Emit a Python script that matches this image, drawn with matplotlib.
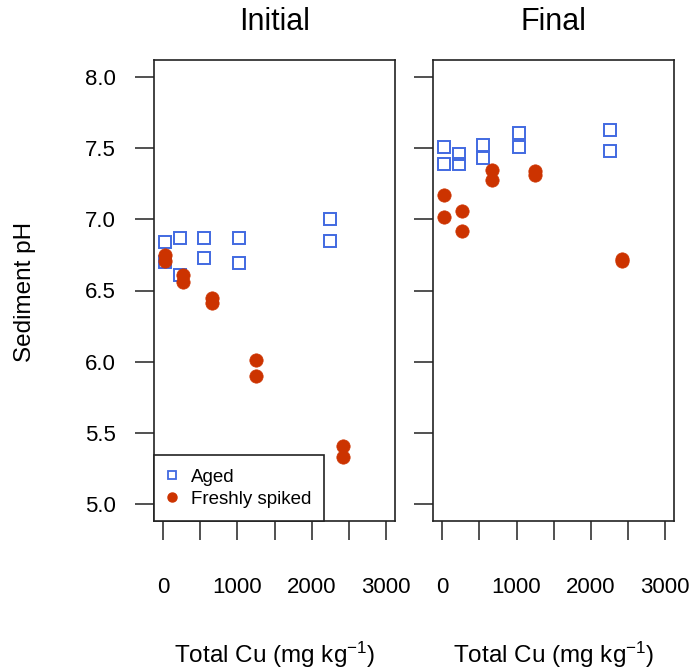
import matplotlib
matplotlib.use("Agg")
import matplotlib.pyplot as plt
from matplotlib.lines import Line2D

plt.rcParams['font.family'] = ['Liberation Sans', 'DejaVu Sans']
plt.rcParams['mathtext.fontset'] = 'custom'
plt.rcParams['mathtext.rm'] = 'Liberation Sans'
plt.rcParams['mathtext.it'] = 'Liberation Sans:italic'
plt.rcParams['mathtext.default'] = 'regular'

# ---- data ----
aged_x = [23, 23, 220, 220, 555, 555, 1027, 1027, 2254, 2254]
fresh_x = [23, 23, 269, 269, 664, 664, 1246, 1246, 2419, 2419]

aged_initial = [6.84, 6.70, 6.87, 6.61, 6.87, 6.73, 6.87, 6.69, 7.00, 6.85]
fresh_initial = [6.75, 6.71, 6.61, 6.56, 6.45, 6.41, 6.01, 5.90, 5.41, 5.33]

aged_final = [7.51, 7.39, 7.46, 7.39, 7.52, 7.43, 7.61, 7.51, 7.63, 7.48]
fresh_final = [7.17, 7.02, 7.06, 6.92, 7.35, 7.28, 7.34, 7.31, 6.72, 6.71]

panel_titles = ["Initial", "Final"]
x_ticks = [0, 500, 1000, 1500, 2000, 2500, 3000]
x_ticklabels = ["0", "", "1000", "", "2000", "", "3000"]
y_ticks = [5.0, 5.5, 6.0, 6.5, 7.0, 7.5, 8.0]
y_ticklabels = ["5.0", "5.5", "6.0", "6.5", "7.0", "7.5", "8.0"]
series_labels = ["Aged", "Freshly spiked"]

blue = "#4169E1"
red = "#CC3300"
W, H = 691, 672

fig = plt.figure(figsize=(W / 100, H / 100), dpi=100)

ax_boxes = [(154.3, 394.7), (433.3, 674.0)]
top_px, bot_px = 60, 521
axes = []
for (l, r) in ax_boxes:
    ax = fig.add_axes([l / W, (H - bot_px) / H, (r - l) / W, (bot_px - top_px) / H])
    axes.append(ax)

datasets = [(aged_initial, fresh_initial), (aged_final, fresh_final)]

for i, ax in enumerate(axes):
    a, f = datasets[i]
    ax.plot(aged_x, a, linestyle='none', marker='s', markersize=9.0,
            markerfacecolor='none', markeredgecolor=blue, markeredgewidth=1.4)
    ax.plot(fresh_x, f, linestyle='none', marker='o', markersize=9.6,
            markerfacecolor=red, markeredgecolor=red, markeredgewidth=0.5)
    ax.set_xlim(-120, 3120)
    ax.set_ylim(4.88, 8.12)
    ax.set_xticks(x_ticks)
    ax.set_xticklabels(x_ticklabels)
    ax.set_yticks(y_ticks)
    if i == 0:
        ax.set_yticklabels(y_ticklabels)
    else:
        ax.set_yticklabels([])
    ax.tick_params(axis='x', length=14, width=1.1, pad=26, labelsize=16, color='#222222')
    ax.tick_params(axis='y', length=14, width=1.1, pad=13.5, labelsize=16, color='#222222')
    for s in ax.spines.values():
        s.set_linewidth(1.2)
        s.set_color('#222222')
    cx = (ax_boxes[i][0] + ax_boxes[i][1]) / 2 / W
    fig.text(cx + 0.0, 1 - 22.5 / H, panel_titles[i], ha='center', va='center', fontsize=22)
    fig.text(cx, 1 - 655 / H, r'Total Cu (mg kg$^{-1}$)', ha='center', va='center', fontsize=17.5)

fig.text(25 / W, 1 - 292 / H, "Sediment pH", rotation=90, ha='center', va='center', fontsize=17.5)

handles = [
    Line2D([], [], linestyle='none', marker='s', markersize=6, markerfacecolor='none',
           markeredgecolor=blue, markeredgewidth=1.3),
    Line2D([], [], linestyle='none', marker='o', markersize=6.5, markerfacecolor=red,
           markeredgecolor=red),
]
leg = axes[0].legend(handles, series_labels, loc='lower left', bbox_to_anchor=(0, 0),
                     borderaxespad=0, frameon=True, fancybox=False, fontsize=13.5,
                     handlelength=0.45, handletextpad=0.8, borderpad=0.7, labelspacing=0.28)
leg.get_frame().set_edgecolor('#222222')
leg.get_frame().set_linewidth(1.2)
leg.get_frame().set_alpha(1)

fig.savefig("out.png", dpi=100)
